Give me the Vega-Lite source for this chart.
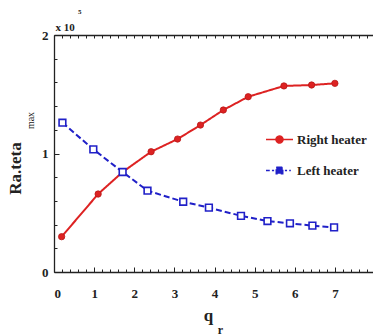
{
  "$schema": "https://vega.github.io/schema/vega-lite/v6.json",
  "autosize": {"type": "none"},
  "width": 319,
  "height": 237,
  "padding": {"left": 54, "top": 35, "right": 0, "bottom": 63},
  "background": "white",
  "config": {
    "view": {"stroke": null},
    "font": "Liberation Serif",
    "axis": {"grid": false, "domainColor": "#222", "tickColor": "#222", "labelColor": "#222", "titleColor": "#222", "labelFont": "Liberation Serif", "titleFont": "Liberation Serif"}
  },
  "title": {
    "text": "5",
    "anchor": "start",
    "frame": "group",
    "font": "Liberation Serif",
    "fontSize": 7,
    "fontWeight": "bold",
    "color": "#222",
    "dx": 24,
    "offset": 6
  },
  "data": {
    "values": [
      {"series": "Right heater", "q": 0.19, "ra": 0.298},
      {"series": "Right heater", "q": 1.1, "ra": 0.658},
      {"series": "Right heater", "q": 1.71, "ra": 0.844},
      {"series": "Right heater", "q": 2.42, "ra": 1.015},
      {"series": "Right heater", "q": 3.08, "ra": 1.122},
      {"series": "Right heater", "q": 3.65, "ra": 1.24},
      {"series": "Right heater", "q": 4.22, "ra": 1.367},
      {"series": "Right heater", "q": 4.84, "ra": 1.479},
      {"series": "Right heater", "q": 5.73, "ra": 1.57},
      {"series": "Right heater", "q": 6.42, "ra": 1.578},
      {"series": "Right heater", "q": 7.0, "ra": 1.592},
      {"series": "Left heater", "q": 0.21, "ra": 1.26},
      {"series": "Left heater", "q": 0.98, "ra": 1.035},
      {"series": "Left heater", "q": 1.71, "ra": 0.844},
      {"series": "Left heater", "q": 2.33, "ra": 0.686},
      {"series": "Left heater", "q": 3.22, "ra": 0.593},
      {"series": "Left heater", "q": 3.86, "ra": 0.543},
      {"series": "Left heater", "q": 4.66, "ra": 0.474},
      {"series": "Left heater", "q": 5.32, "ra": 0.43},
      {"series": "Left heater", "q": 5.88, "ra": 0.411},
      {"series": "Left heater", "q": 6.44, "ra": 0.391},
      {"series": "Left heater", "q": 6.98, "ra": 0.377}
    ]
  },
  "resolve": {"axis": {"x": "independent", "y": "independent"}},
  "layer": [
    {
      "mark": {"type": "line", "strokeWidth": 2},
      "encoding": {
        "x": {
          "field": "q", "type": "quantitative",
          "scale": {"domain": [0, 7.95], "nice": false, "zero": false},
          "axis": {
            "orient": "bottom",
            "values": [0, 1, 2, 3, 4, 5, 6, 7],
            "format": "d",
            "labelOverlap": false,
            "tickSize": -5, "tickWidth": 1,
            "domainWidth": 1.3,
            "labelPadding": 20, "labelBaseline": "top",
            "labelFontSize": 13, "labelFontWeight": "bold",
            "title": "q",
            "titleFontSize": 17, "titleFontWeight": "bold",
            "titleX": 154, "titleY": 48, "titleAlign": "center", "titleBaseline": "alphabetic"
          }
        },
        "y": {
          "field": "ra", "type": "quantitative",
          "scale": {"domain": [0, 2], "nice": false},
          "axis": {
            "orient": "left",
            "values": [0, 1, 2],
            "format": ".0f",
            "labelOverlap": false,
            "labelFlush": false,
            "tickSize": -5, "tickWidth": 1,
            "domainWidth": 1.3,
            "labelPadding": 11, "labelBaseline": "middle",
            "labelFontSize": 13, "labelFontWeight": "bold",
            "title": "Ra.teta",
            "titleFontSize": 17, "titleFontWeight": "bold",
            "titleAngle": 270,
            "titleX": -34, "titleY": 133, "titleAlign": "center", "titleBaseline": "alphabetic"
          }
        },
        "color": {
          "field": "series", "type": "nominal",
          "scale": {"domain": ["Right heater", "Left heater"], "range": ["#dd2222", "#2020c8"]},
          "legend": {
            "orient": "none",
            "legendX": 211,
            "legendY": 90,
            "title": null,
            "padding": 0,
            "labelFont": "Liberation Serif",
            "labelFontSize": 13,
            "labelFontWeight": "bold",
            "labelColor": "#222",
            "labelOffset": 3,
            "symbolSize": 729,
            "symbolStrokeWidth": 1.5,
            "rowPadding": 9,
            "encode": {
              "symbols": {
                "update": {
                  "shape": {"signal": "datum.value === 'Right heater' ? 'M-1,0H1M-0.26,0A0.26,0.26,0,1,0,0.26,0A0.26,0.26,0,1,0,-0.26,0Z' : 'M-1,0H-0.72M-0.56,0H-0.4M0.4,0H0.56M0.72,0H0.84M-0.24,-0.24H0.24V0.24H-0.24Z'"},
                  "fill": {"signal": "datum.value === 'Right heater' ? '#dd2222' : '#2020c8'"},
                  "stroke": {"signal": "datum.value === 'Right heater' ? '#dd2222' : '#2020c8'"},
                  "opacity": {"value": 1},
                  "strokeWidth": {"value": 1.5}
                }
              }
            }
          }
        },
        "strokeDash": {
          "field": "series", "type": "nominal",
          "scale": {"domain": ["Right heater", "Left heater"], "range": [[1, 0], [6, 3]]},
          "legend": null
        }
      }
    },
    {
      "transform": [{"filter": "datum.series === 'Right heater'"}],
      "mark": {"type": "point", "shape": "circle", "filled": true, "fill": "#dd2222", "stroke": "#b81818", "strokeWidth": 0.8, "size": 40, "opacity": 1},
      "encoding": {
        "x": {
          "field": "q", "type": "quantitative",
          "axis": {
            "orient": "top",
            "values": [0, 0.2, 0.4, 0.6, 0.8, 1, 1.2, 1.4, 1.6, 1.8, 2, 2.2, 2.4, 2.6, 2.8, 3, 3.2, 3.4, 3.6, 3.8, 4, 4.2, 4.4, 4.6, 4.8, 5, 5.2, 5.4, 5.6, 5.8, 6, 6.2, 6.4, 6.6, 6.8, 7, 7.2, 7.4, 7.6, 7.8],
            "tickSize": -3, "tickWidth": 1,
            "domainWidth": 1.3,
            "labels": false,
            "title": "x 10",
            "titleFontSize": 11, "titleFontWeight": "bold",
            "titleX": 1, "titleY": -5, "titleAlign": "left", "titleBaseline": "alphabetic"
          }
        },
        "y": {
          "field": "ra", "type": "quantitative",
          "axis": {
            "orient": "left",
            "values": [0.2, 0.4, 0.6, 0.8, 1.2, 1.4, 1.6, 1.8],
            "tickSize": -3, "tickWidth": 1,
            "domain": false,
            "labels": false,
            "title": "max",
            "titleFontSize": 10, "titleFontWeight": "normal",
            "titleAngle": 270,
            "titleX": -21, "titleY": 85, "titleAlign": "center", "titleBaseline": "alphabetic"
          }
        }
      }
    },
    {
      "transform": [{"filter": "datum.series === 'Left heater'"}],
      "mark": {"type": "point", "shape": "square", "filled": true, "fill": "white", "stroke": "#2020c8", "strokeWidth": 1.6, "size": 45, "opacity": 1},
      "encoding": {
        "x": {
          "field": "q", "type": "quantitative",
          "axis": {
            "orient": "bottom",
            "values": [0.2, 0.4, 0.6, 0.8, 1.2, 1.4, 1.6, 1.8, 2.2, 2.4, 2.6, 2.8, 3.2, 3.4, 3.6, 3.8, 4.2, 4.4, 4.6, 4.8, 5.2, 5.4, 5.6, 5.8, 6.2, 6.4, 6.6, 6.8, 7.2, 7.4, 7.6, 7.8],
            "tickSize": -3, "tickWidth": 1,
            "domain": false,
            "labels": false,
            "title": "r",
            "titleFontSize": 12, "titleFontWeight": "bold",
            "titleX": 166, "titleY": 61, "titleAlign": "center", "titleBaseline": "alphabetic"
          }
        },
        "y": {"field": "ra", "type": "quantitative", "axis": null}
      }
    }
  ]
}
